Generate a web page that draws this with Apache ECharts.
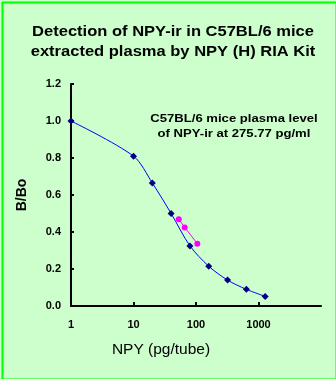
<!DOCTYPE html>
<html><head><meta charset="utf-8">
<script src="https://cdn.jsdelivr.net/npm/echarts@6/dist/echarts.min.js"></script>
<style>html,body{margin:0;padding:0;background:#ccffcc;}#c{width:336px;height:379px;}</style>
</head><body><div id="c"></div>
<script>
const titleLines = ['Detection of NPY-ir in C57BL/6 mice', 'extracted plasma by NPY (H) RIA Kit'];
const noteLines = ['C57BL/6 mice plasma level', 'of NPY-ir at 275.77 pg/ml'];
const xTickValues = [1, 10, 100, 1000];
const standardDose = [1, 10, 20, 40, 80, 160, 320, 640, 1280];
const standardBBo = [1.0, 0.81, 0.665, 0.50, 0.325, 0.215, 0.14, 0.09, 0.052];
const sampleDose = [53, 66, 105];
const sampleBBo = [0.469, 0.425, 0.337];

const font = '"Liberation Sans", Arial, sans-serif';
const chart = echarts.init(document.getElementById('c'), null, {renderer: 'canvas'});
function txt(s, x, y, size, sx) {
  return {type: 'text', x: x, y: y, scaleX: sx, z: 50,
    style: {text: s, x: 0, y: 0, fontFamily: font, fontSize: size, fontWeight: 'bold', fill: '#000', align: 'center', verticalAlign: 'middle'}};
}
chart.setOption({
  backgroundColor: '#ccffcc',
  animation: false,
  graphic: [
    {type: 'rect', left: 0, top: 0, shape: {width: 334, height: 377}, style: {fill: 'none', stroke: '#00ff00', lineWidth: 2}, z: 100},
    txt(titleLines[0], 173, 32, 14, 1.18),
    txt(titleLines[1], 173, 52, 14, 1.18),
    txt(noteLines[0], 234, 119, 11, 1.19),
    txt(noteLines[1], 234, 134, 11, 1.19)
  ],
  grid: {left: 71, right: 15, top: 84, bottom: 73},
  xAxis: {
    type: 'log', logBase: 10, min: 1, max: 10000,
    name: 'NPY (pg/tube)', nameLocation: 'middle', nameGap: 36,
    nameTextStyle: {fontFamily: font, fontSize: 15.5, color: '#000', padding: [0, 70, 0, 0]},
    axisLine: {lineStyle: {color: '#000', width: 2}},
    axisTick: {inside: true, length: 4, lineStyle: {color: '#000', width: 2}, customValues: xTickValues},
    axisLabel: {customValues: xTickValues, fontFamily: font, fontSize: 11, fontWeight: 'bold', color: '#000', margin: 13, formatter: v => String(v)},
    splitLine: {show: false}, minorTick: {show: false}
  },
  yAxis: {
    type: 'value', min: 0, max: 1.2, interval: 0.2,
    name: 'B/Bo', nameLocation: 'middle', nameGap: 42,
    nameTextStyle: {fontFamily: font, fontSize: 14, fontWeight: 'bold', color: '#000'},
    axisLine: {show: true, lineStyle: {color: '#000', width: 2}},
    axisTick: {show: true, inside: true, length: 3, lineStyle: {color: '#000', width: 2}},
    axisLabel: {fontFamily: font, fontSize: 11, fontWeight: 'bold', color: '#000', margin: 10, formatter: v => v.toFixed(1)},
    splitLine: {show: false}
  },
  series: [
    {
      type: 'line', smooth: 0.3,
      data: standardDose.map((d, i) => [d, standardBBo[i]]),
      symbol: 'diamond', symbolSize: 7,
      lineStyle: {color: '#0000ff', width: 1},
      itemStyle: {color: '#000080'}
    },
    {
      type: 'line', smooth: false,
      data: sampleDose.map((d, i) => [d, sampleBBo[i]]),
      symbol: 'circle', symbolSize: 6,
      lineStyle: {color: '#ff00ff', width: 1},
      itemStyle: {color: '#ff00ff'}
    }
  ]
});
</script></body></html>
